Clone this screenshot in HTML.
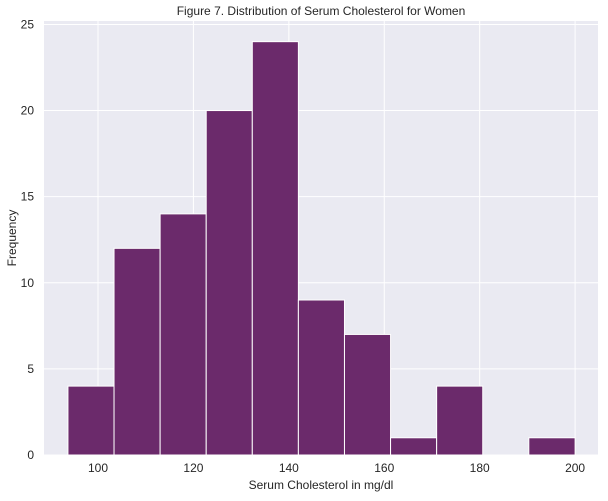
<!DOCTYPE html>
<html><head><meta charset="utf-8"><style>
body{margin:0;background:#fff;width:608px;height:496px;overflow:hidden}
svg{font-family:"Liberation Sans",Arial,sans-serif}
</style></head><body>
<svg id="chart" width="608" height="496" xmlns="http://www.w3.org/2000/svg"></svg>
<script>
const binEdges=[93.7,103.36,113.02,122.68,132.34,142,151.66,161.32,170.98,180.64,190.3,200];
const counts=[4,12,14,20,24,9,7,1,4,0,1];
const xTicks=[100,120,140,160,180,200];
const yTicks=[0,5,10,15,20,25];
const L=44,R=598,T=21,B=455;
const xmin=88.68,xmax=204.8,ymax=25.2;
const sx=v=>L+(v-xmin)/(xmax-xmin)*(R-L);
const sy=v=>B-v/ymax*(B-T);
const svg=document.getElementById('chart');
const NS='http://www.w3.org/2000/svg';
function mk(tag,attrs,parent){const e=document.createElementNS(NS,tag);for(const k in attrs)e.setAttribute(k,attrs[k]);(parent||svg).appendChild(e);return e;}
const bg=mk('rect',{x:L,y:T,width:R-L,height:B-T,fill:'#EAEAF2'});


xTicks.forEach(t=>{
  const g=mk('line',{x1:sx(t),x2:sx(t),y1:T,y2:B,stroke:'#fff','stroke-width':1});
  
  
  const lb=mk('text',{x:sx(t),y:B+17,'text-anchor':'middle','font-size':12,fill:'#262626'});
  lb.textContent=t;
  
  
});
yTicks.forEach(t=>{
  const g=mk('line',{x1:L,x2:R,y1:sy(t),y2:sy(t),stroke:'#fff','stroke-width':1});
  
  
  const lb=mk('text',{x:L-10,y:sy(t)+4,'text-anchor':'end','font-size':12,fill:'#262626'});
  lb.textContent=t;
  
  
});
counts.forEach((c,i)=>{
  if(c<=0)return;
  const x0=sx(binEdges[i]),x1=sx(binEdges[i+1]);
  const r=mk('rect',{x:x0,y:sy(c),width:x1-x0,height:sy(0)-sy(c),fill:'#6B2A6B',stroke:'#fff','stroke-width':1});
  
  
});
const title=mk('text',{x:(L+R)/2,y:15,'text-anchor':'middle','font-size':12,fill:'#262626'});
title.textContent='Figure 7. Distribution of Serum Cholesterol for Women';


const xl=mk('text',{x:(L+R)/2,y:489,'text-anchor':'middle','font-size':12,fill:'#262626'});
xl.textContent='Serum Cholesterol in mg/dl';


const yl=mk('text',{x:16,y:(T+B)/2,'text-anchor':'middle','font-size':12,fill:'#262626',transform:`rotate(-90 16 ${(T+B)/2})`});
yl.textContent='Frequency';


</script>
</body></html>
